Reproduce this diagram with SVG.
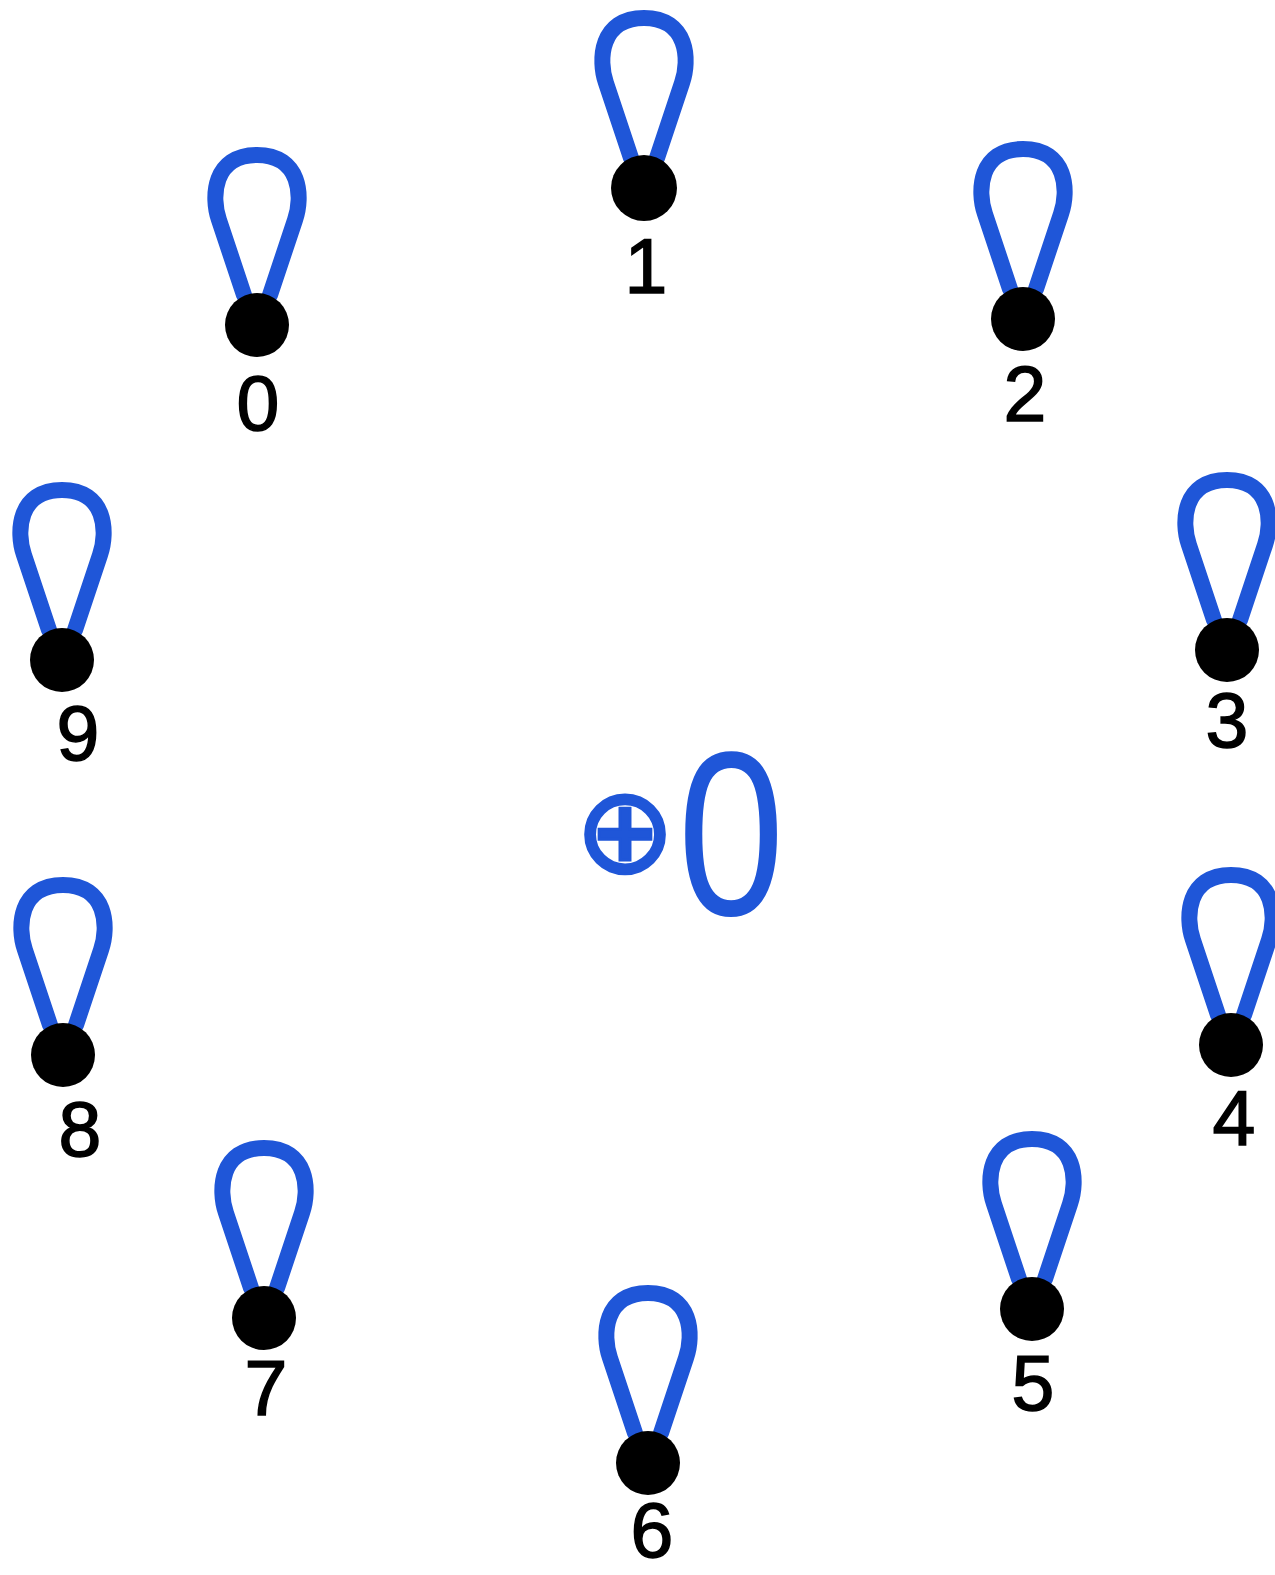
<svg xmlns="http://www.w3.org/2000/svg" xmlns:xlink="http://www.w3.org/1999/xlink" width="1275" height="1575" viewBox="0 0 1275 1575">
<style>
.loop{fill:none;stroke:#1f56d8;stroke-width:16;stroke-linecap:round;stroke-linejoin:round}
.dot{fill:#000}
.lbl{font-family:"Liberation Sans",Arial,sans-serif;font-size:77px;fill:#000;stroke:#000;stroke-width:1.5;text-anchor:middle}
.sym{fill:#1f56d8;text-anchor:middle}
</style>
<defs>
<path id="loop" class="loop" d="M -13,-30 L -38,-105 C -46,-128 -44,-170 0,-170 C 44,-170 46,-128 38,-105 L 13,-30"/>
</defs>
<rect width="1275" height="1575" fill="#fff"/>
<g id="connectors">
<use xlink:href="#loop" href="#loop" transform="translate(257,325)"/>
<use xlink:href="#loop" href="#loop" transform="translate(644,188)"/>
<use xlink:href="#loop" href="#loop" transform="translate(1023,319)"/>
<use xlink:href="#loop" href="#loop" transform="translate(1227,650)"/>
<use xlink:href="#loop" href="#loop" transform="translate(1231,1045)"/>
<use xlink:href="#loop" href="#loop" transform="translate(1032,1309)"/>
<use xlink:href="#loop" href="#loop" transform="translate(648,1463)"/>
<use xlink:href="#loop" href="#loop" transform="translate(264,1318)"/>
<use xlink:href="#loop" href="#loop" transform="translate(63,1055)"/>
<use xlink:href="#loop" href="#loop" transform="translate(62,660)"/>
</g>
<g id="node-0"><circle class="dot" cx="257" cy="325" r="32"/><text class="lbl" x="258" y="430">0</text></g>
<g id="node-1"><circle class="dot" cx="644" cy="188" r="33"/><text class="lbl" x="646" y="293">1</text></g>
<g id="node-2"><circle class="dot" cx="1023" cy="319" r="32"/><text class="lbl" x="1025" y="421">2</text></g>
<g id="node-3"><circle class="dot" cx="1227" cy="650" r="32"/><text class="lbl" x="1227" y="747">3</text></g>
<g id="node-4"><circle class="dot" cx="1231" cy="1045" r="32"/><text class="lbl" x="1234" y="1145">4</text></g>
<g id="node-5"><circle class="dot" cx="1032" cy="1309" r="32"/><text class="lbl" x="1033" y="1410">5</text></g>
<g id="node-6"><circle class="dot" cx="648" cy="1463" r="32"/><text class="lbl" x="652" y="1557">6</text></g>
<g id="node-7"><circle class="dot" cx="264" cy="1318" r="32"/><text class="lbl" x="266" y="1415">7</text></g>
<g id="node-8"><circle class="dot" cx="63" cy="1055" r="32"/><text class="lbl" x="80" y="1156">8</text></g>
<g id="node-9"><circle class="dot" cx="62" cy="660" r="32"/><text class="lbl" x="78" y="760">9</text></g>
<g id="center">
<text class="sym" x="625" y="872" font-family="DejaVu Sans, sans-serif" font-size="120" stroke="#1f56d8" stroke-width="3">⊕</text>
<text class="sym" transform="translate(731,915) scale(0.82,1)" font-family="Liberation Sans, Arial, sans-serif" font-size="234">0</text>
</g>
</svg>
